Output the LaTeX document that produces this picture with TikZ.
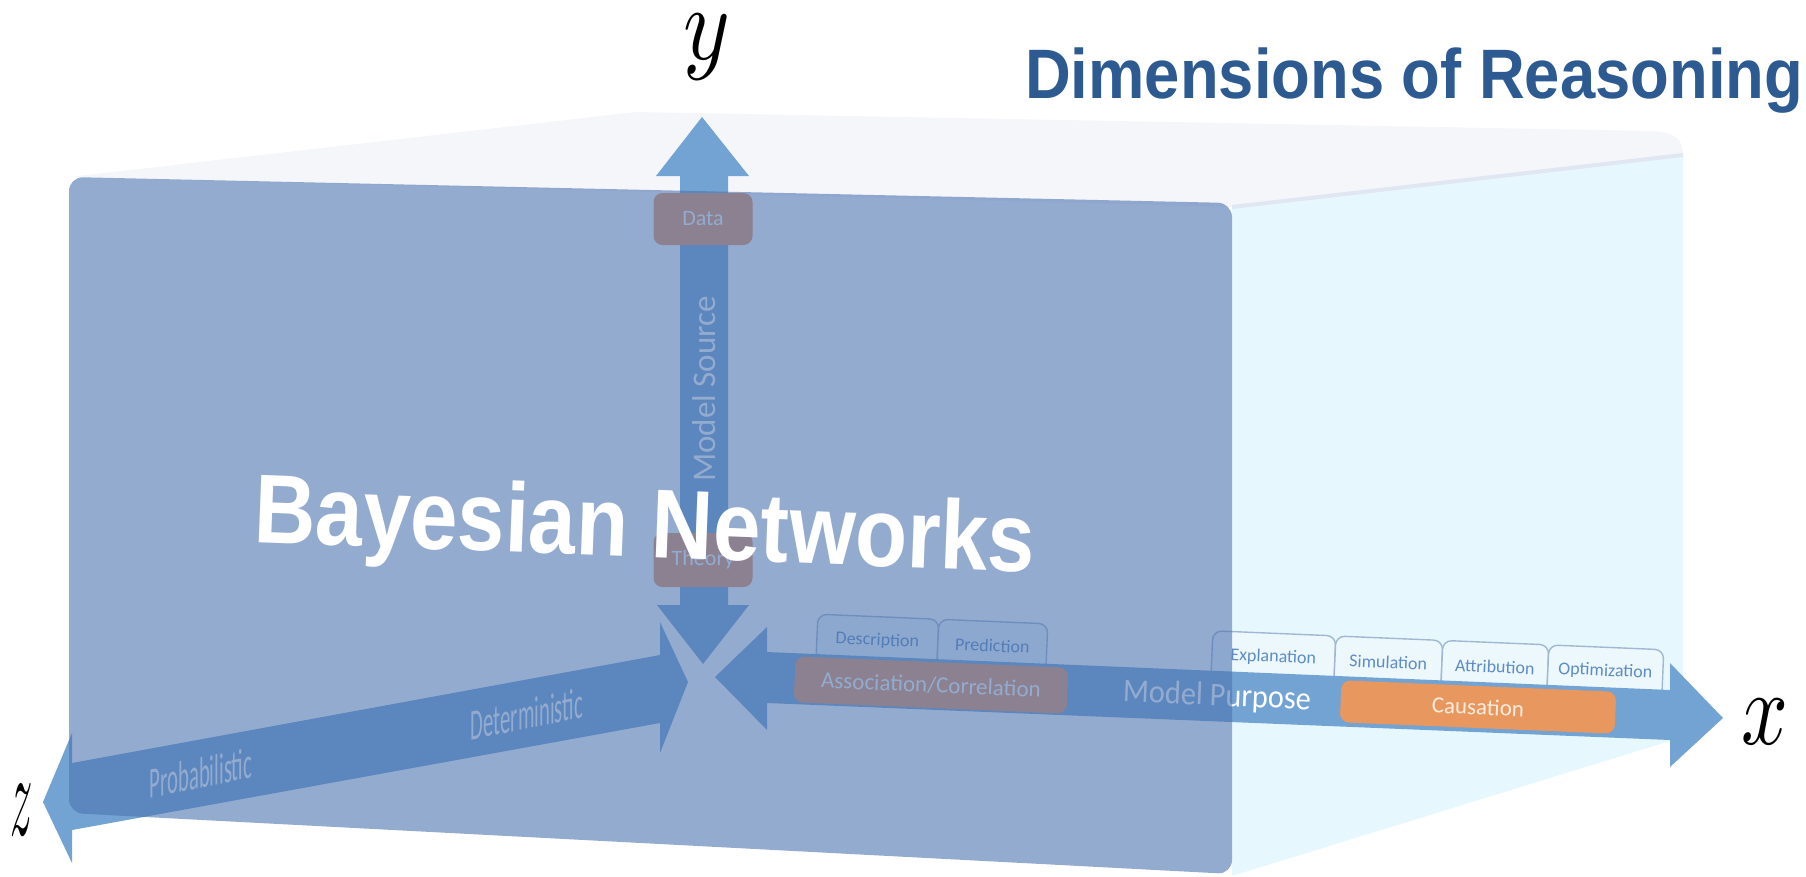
\documentclass[tikz,border=0pt]{standalone}
\usepackage{fontspec}
\usepackage{graphicx}
\newfontfamily\carl{Carlito}
\newfontfamily\libsans{Liberation Sans}
\definecolor{arrowblue}{RGB}{114,163,211}
\definecolor{faceblue}{RGB}{77,115,177}
\definecolor{topface}{RGB}{244,246,250}
\definecolor{sideface}{RGB}{230,248,253}
\definecolor{edgeline}{RGB}{224,231,243}
\definecolor{boxorange}{RGB}{232,151,95}
\definecolor{tabfill}{RGB}{237,248,252}
\definecolor{tabline}{RGB}{160,184,210}
\definecolor{tabtext}{RGB}{94,140,197}
\definecolor{titleblue}{RGB}{44,90,145}
\definecolor{causetext}{RGB}{252,236,222}
\tikzset{
  arrowshape/.style={fill=arrowblue},
  frontface/.style={fill=faceblue, fill opacity=0.6, rounded corners=14},
  tabshape/.style={fill=tabfill, draw=tabline, line width=1.4, rounded corners=9},
  tablabel/.style={inner sep=0, text=tabtext, font=\carl\fontsize{18}{18}\selectfont},
  orangebox/.style={fill=boxorange, rounded corners=9, inner sep=0, text=white, font=\carl\fontsize{23}{23}\selectfont},
  whitelabel/.style={inner sep=0, text=white},
  mathlabel/.style={inner sep=0, font=\normalsize},
}
\newcommand\tabcard[5]{%
  \begin{scope}[shift={(#2,#3)}, rotate=-2.4]
    \path[tabshape] (-#4/2,22) -- (-#4/2,-20) -- (#4/2,-20) -- (#4/2,22);
    \node[tablabel, transform shape] (#1) at (0,4) {#5};
  \end{scope}}
\begin{document}
\begin{tikzpicture}[x=1pt,y=-1pt]
\useasboundingbox (0,0) rectangle (1806,876);
% box: top and right faces
\fill[topface] (69,177) -- (636,112) -- (1652,131) .. controls (1676,132) and (1683,140) .. (1683,155) -- (1232,207) -- cycle;
\fill[sideface] (1232,207) -- (1683,155) -- (1683,737) -- (1232,876) -- cycle;
\draw[edgeline, line width=4] (1232,207) -- (1683,155);
% tabs
\tabcard{tDesc}{877.5}{636.7}{121}{Description}
\tabcard{tPred}{992.5}{641.5}{109}{Prediction}
\tabcard{tExpl}{1273.5}{653.3}{123}{Explanation}
\tabcard{tSimu}{1388.5}{658.2}{107}{Simulation}
\tabcard{tAttr}{1495}{662.6}{106}{Attribution}
\tabcard{tOpti}{1605.5}{667.3}{115}{Optimization}
% axes
\fill[arrowshape] (702,117) -- (749,176) -- (728,176) -- (728,605) -- (749,605) -- (703,664) -- (657,605) -- (680,605) -- (680,176) -- (656,176) -- cycle;
\fill[arrowshape] (43,802) -- (72,733) -- (72,763) -- (660,655) -- (660,622) -- (688,682) -- (660,753) -- (660,723) -- (72,830) -- (72,863) -- cycle;
\fill[arrowshape] (715,677) -- (767,627) -- (767,652) -- (1670,690) -- (1670,663) -- (1723,718) -- (1670,767) -- (1670,740) -- (767,703) -- (767,730) -- cycle;
% boxes and axis labels
\node[orangebox, minimum width=99, minimum height=52, font=\carl\fontsize{22}{22}\selectfont] (data) at (703,219) {Data};
\node[orangebox, minimum width=99, minimum height=54, font=\carl\fontsize{22}{22}\selectfont] (theory) at (703,560) {Theory};
\node[orangebox, rotate=-2.4, minimum width=273, minimum height=46] (assoc) at (931,685) {Association/Correlation};
\node[orangebox, rotate=-2.4, minimum width=275, minimum height=42, text=causetext] (cause) at (1478,707) {Causation};
\node[whitelabel, rotate=90, font=\carl\fontsize{33}{33}\selectfont] (msource) at (704,389) {Model Source};
\node[whitelabel, rotate=-2.4, font=\carl\fontsize{33}{33}\selectfont] (mpurpose) at (1217,697) {\scalebox{0.92}[1]{Model Purpose}};
\node[whitelabel, anchor=base, yslant=0.2, font=\carl\fontsize{44}{44}\selectfont] (determ) at (527,729) {\scalebox{0.47}[1]{Deterministic}};
\node[whitelabel, anchor=base, yslant=0.2, font=\carl\fontsize{44}{44}\selectfont] (probab) at (201,788) {\scalebox{0.47}[1]{Probabilistic}};
% translucent front face
\fill[frontface] (69,177) -- (1232,203) -- (1232,874) -- (69,813) -- cycle;
% texts on top
\node[inner sep=0, anchor=base west, rotate=-2.2, text=white, font=\libsans\bfseries\fontsize{98}{98}\selectfont] (bn) at (253,542) {\scalebox{0.87}[1]{Bayesian Networks}};
\node[inner sep=0, anchor=base west, text=titleblue, font=\libsans\bfseries\fontsize{70}{70}\selectfont] (title) at (1025,98) {\scalebox{0.905}[1]{Dimensions of Reasoning}};
\node[mathlabel] (ylab) at (707,47) {\scalebox{8.9}[10.5]{$y$}};
\node[mathlabel] (xlab) at (1765,722) {\scalebox{8.2}[10.5]{$x$}};
\node[mathlabel] (zlab) at (22,810) {\scalebox{4.4}[11.8]{$z$}};
\end{tikzpicture}
\end{document}
